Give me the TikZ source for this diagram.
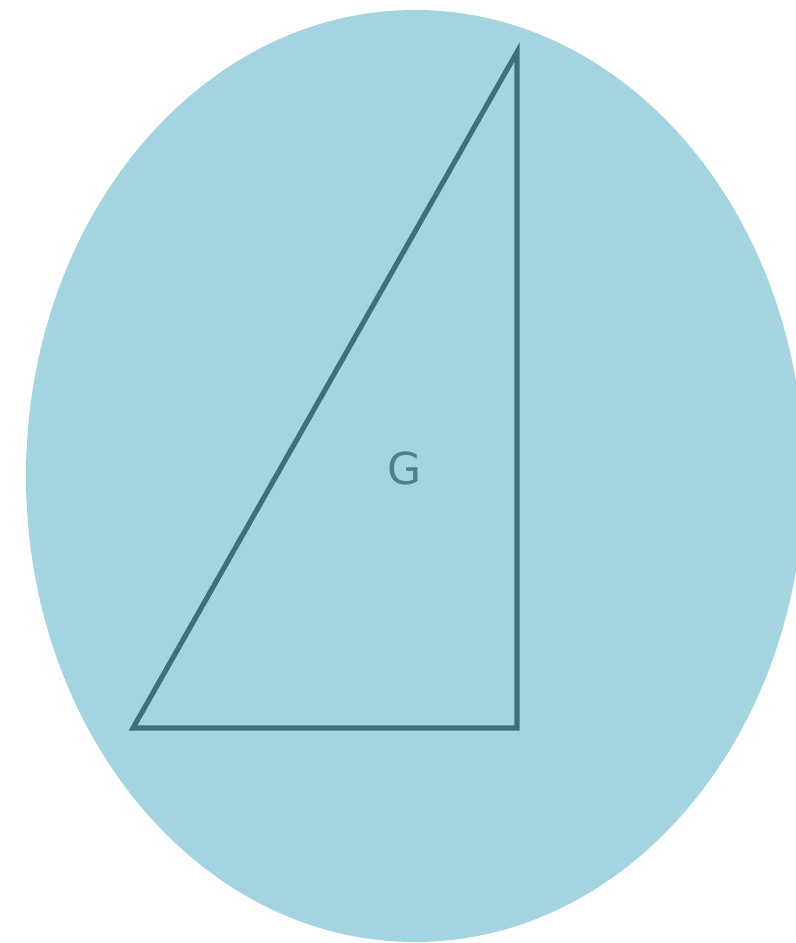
\documentclass[tikz,border=0pt]{standalone}
\usepackage{fontspec}
\setsansfont{DejaVu Sans}
\usepackage{xcolor}
\usetikzlibrary{positioning}
\definecolor{GFill}{HTML}{A5D4E1}
\definecolor{GLine}{HTML}{3F6F7F}
\definecolor{GText}{HTML}{4F8090}

\begin{document}
\begin{tikzpicture}[
  x=0.75pt,y=-0.75pt,
  edge/.style={draw=GLine,line width=3.8pt,line join=miter},
  lbl/.style={font=\sffamily\fontsize{33}{33}\selectfont,text=GText,inner sep=0pt}
]
  \useasboundingbox (0,0) rectangle (796,943);
  \clip (0,0) rectangle (796,943);
  % disc
  \fill[GFill] (415,476) ellipse [x radius=389,y radius=466];
  % triangle
  \coordinate (bl) at (133,728);
  \coordinate (br) at (517,728);
  \coordinate (tr) at (517,52);
  \draw[edge] (bl) -- (br) -- (tr) -- cycle;
  \node[lbl] (g) at (405,468) {G};
\end{tikzpicture}
\end{document}
